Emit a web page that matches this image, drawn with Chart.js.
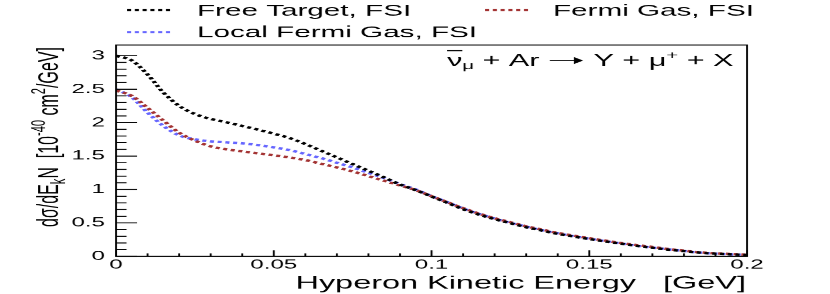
<!DOCTYPE html>
<html lang="en">
<head>
<meta charset="UTF-8">
<title>Hyperon Kinetic Energy</title>
<script src="https://cdn.jsdelivr.net/npm/chart.js@4"></script>
<style>
  html, body { margin: 0; padding: 0; background: #fff; overflow: hidden; }
  /* the reference is stretched horizontally, so draw narrow and widen it */
  #wrap { width: 448px; height: 294px; transform: scaleX(1.8527); transform-origin: 0 0; }
</style>
</head>
<body>
<div id="wrap"><canvas id="chart" width="448" height="294"></canvas></div>
<script>
const energy = [0, 0.005, 0.01, 0.015, 0.02, 0.025, 0.03, 0.035, 0.04, 0.045,
                0.05, 0.055, 0.06, 0.065, 0.07, 0.075, 0.08, 0.085, 0.09, 0.095,
                0.1, 0.105, 0.11, 0.115, 0.12, 0.125, 0.13, 0.135, 0.14, 0.145,
                0.15, 0.155, 0.16, 0.165, 0.17, 0.175, 0.18, 0.185, 0.19, 0.195, 0.2];
const freeTarget = [3.00, 2.93, 2.72, 2.45, 2.25, 2.13, 2.055, 2.005, 1.95, 1.895,
                    1.835, 1.77, 1.68, 1.58, 1.48, 1.38, 1.28, 1.18, 1.075, 0.99,
                    0.895, 0.80, 0.705, 0.625, 0.555, 0.495, 0.435, 0.385, 0.335, 0.295,
                    0.258, 0.222, 0.19, 0.157, 0.127, 0.10, 0.078, 0.055, 0.04, 0.03, 0.02];
const fermiGas = [2.48, 2.40, 2.22, 2.03, 1.85, 1.73, 1.645, 1.60, 1.57, 1.54,
                  1.51, 1.48, 1.44, 1.385, 1.33, 1.27, 1.20, 1.13, 1.06, 0.99,
                  0.90, 0.81, 0.72, 0.64, 0.57, 0.51, 0.45, 0.40, 0.35, 0.31,
                  0.27, 0.235, 0.20, 0.17, 0.14, 0.11, 0.085, 0.06, 0.045, 0.035, 0.025];
const localFermiGas = [2.50, 2.38, 2.15, 1.95, 1.81, 1.75, 1.72, 1.705, 1.69, 1.665,
                       1.63, 1.59, 1.53, 1.47, 1.40, 1.33, 1.25, 1.17, 1.08, 1.00,
                       0.90, 0.81, 0.715, 0.635, 0.565, 0.50, 0.445, 0.39, 0.345, 0.30,
                       0.262, 0.227, 0.193, 0.16, 0.13, 0.105, 0.08, 0.056, 0.04, 0.03, 0.02];
const seriesNames = ['Free Target, FSI', 'Fermi Gas, FSI', 'Local Fermi Gas, FSI'];
const seriesColors = ['#000000', '#a33333', '#6666ff'];
const xTickLabels = ['0', '0.05', '0.1', '0.15', '0.2'];
const yTickLabels = ['0', '0.5', '1', '1.5', '2', '2.5', '3'];

const S = 830 / 448;          // horizontal stretch
const P = v => v / S;         // screen x px -> canvas px
const W = 448, H = 294;
const FONT = '"Liberation Sans", Arial, sans-serif';
const f = size => size + 'px ' + FONT;

const near = (v, step) => Math.abs(v / step - Math.round(v / step)) < 1e-6;

// frame, inside ticks, titles, legend and the reaction label
const decor = {
    id: 'decor',
    afterDraw(chart) {
        const { ctx, chartArea: a, scales: { x, y } } = chart;
        ctx.save();
        ctx.strokeStyle = '#000';
        ctx.fillStyle = '#000';
        ctx.lineWidth = 1;
        ctx.strokeRect(a.left, a.top, a.right - a.left, a.bottom - a.top);

        ctx.beginPath();
        y.ticks.forEach(t => {
            if (!near(t.value, 0.1)) return;
            const py = y.getPixelForValue(t.value);
            const len = near(t.value, 0.5) ? P(21) : P(10.5);
            ctx.moveTo(a.left, py);
            ctx.lineTo(a.left + len, py);
        });
        x.ticks.forEach(t => {
            if (!near(t.value, 0.01)) return;
            const px = x.getPixelForValue(t.value);
            const len = near(t.value, 0.05) ? 6 : 3;
            ctx.moveTo(px, a.bottom);
            ctx.lineTo(px, a.bottom - len);
        });
        ctx.stroke();

        // x title
        ctx.font = f(17.5);
        ctx.textAlign = 'right';
        ctx.textBaseline = 'alphabetic';
        ctx.fillText('Hyperon Kinetic Energy   [GeV]', P(746), 288);

        // y title, rotated, with sub and superscripts
        const parts = [
            { t: 'dσ/dE', s: 16, dy: 0 },
            { t: 'k', s: 11, dy: 4 },
            { t: 'N  [10', s: 16, dy: 0 },
            { t: '-40', s: 11, dy: -7 },
            { t: ' cm', s: 16, dy: 0 },
            { t: '2', s: 11, dy: -7 },
            { t: '/GeV]', s: 16, dy: 0 }
        ];
        ctx.textAlign = 'left';
        let total = 0;
        parts.forEach(p => { ctx.font = f(p.s); p.w = ctx.measureText(p.t).width; total += p.w; });
        ctx.save();
        ctx.translate(P(58), 47 + total);
        ctx.rotate(-Math.PI / 2);
        let cx = 0;
        parts.forEach(p => { ctx.font = f(p.s); ctx.fillText(p.t, cx, p.dy); cx += p.w; });
        ctx.restore();

        // legend
        const spots = [
            { sx: 127, y: 10, tx: 197 },
            { sx: 485, y: 10, tx: 553 },
            { sx: 127, y: 32, tx: 197 }
        ];
        chart.data.datasets.forEach((ds, i) => {
            const sp = spots[i];
            ctx.save();
            ctx.strokeStyle = ds.borderColor;
            ctx.lineWidth = 2;
            ctx.setLineDash(ds.borderDash);
            ctx.beginPath();
            ctx.moveTo(P(sp.sx), sp.y);
            ctx.lineTo(P(sp.sx + 44), sp.y);
            ctx.stroke();
            ctx.restore();
            ctx.font = f(16);
            ctx.textBaseline = 'middle';
            ctx.fillText(ds.label, P(sp.tx), sp.y + 1);
        });

        // reaction label
        ctx.textBaseline = 'alphabetic';
        const by = 66;
        let rx = P(447);
        ctx.font = f(16.5);
        const wNu = ctx.measureText('ν').width;
        ctx.fillText('ν', rx, by);
        ctx.fillRect(rx, by - 16, wNu, 1.2);
        rx += wNu;
        ctx.font = f(11);
        ctx.fillText('μ', rx, by + 3);
        rx += ctx.measureText('μ').width;
        ctx.font = f(16.5);
        ctx.fillText(' + Ar ', rx, by);
        rx += ctx.measureText(' + Ar ').width;
        // long arrow
        ctx.beginPath();
        ctx.lineWidth = 1;
        ctx.moveTo(rx + 1, by - 5.5);
        ctx.lineTo(rx + 18, by - 5.5);
        ctx.stroke();
        ctx.beginPath();
        ctx.moveTo(rx + 19, by - 5.5);
        ctx.lineTo(rx + 14, by - 9);
        ctx.lineTo(rx + 14, by - 2);
        ctx.closePath();
        ctx.fill();
        rx += 20;
        ctx.fillText(' Y + μ', rx, by);
        rx += ctx.measureText(' Y + μ').width;
        ctx.font = f(11);
        ctx.fillText('+', rx, by - 7);
        rx += ctx.measureText('+').width;
        ctx.font = f(16.5);
        ctx.fillText(' + X', rx, by);
        ctx.restore();
    }
};

const curves = [freeTarget, fermiGas, localFermiGas];
const datasets = curves.map((vals, i) => ({
    label: seriesNames[i],
    data: energy.map((e, j) => ({ x: e, y: vals[j] })),
    borderColor: seriesColors[i],
    borderWidth: 2.4,
    borderDash: [2.2, 2],
    pointRadius: 0,
    fill: false,
    cubicInterpolationMode: 'monotone'
}));

new Chart(document.getElementById('chart'), {
    type: 'line',
    data: { datasets },
    options: {
        responsive: false,
        animation: false,
        devicePixelRatio: S,
        layout: { padding: { left: 0, right: W - P(747), top: 45, bottom: 0 } },
        plugins: { legend: { display: false }, tooltip: { enabled: false } },
        scales: {
            x: {
                type: 'linear',
                min: 0, max: 0.2,
                grid: { display: false, drawTicks: false },
                border: { display: false },
                afterFit: s => { s.height = H - 256; },
                ticks: {
                    stepSize: 0.01, autoSkip: false, maxRotation: 0, padding: 1,
                    color: '#000', font: { family: FONT, size: 13 },
                    callback: v => near(v, 0.05) ? xTickLabels[Math.round(v / 0.05)] : ''
                }
            },
            y: {
                min: 0, max: 3.16,
                grid: { display: false, drawTicks: false },
                border: { display: false },
                afterFit: s => { s.width = P(116); },
                ticks: {
                    stepSize: 0.1, autoSkip: false, padding: 6,
                    color: '#000', font: { family: FONT, size: 13 },
                    callback: v => near(v, 0.5) ? yTickLabels[Math.round(v / 0.5)] : ''
                }
            }
        }
    },
    plugins: [decor]
});
</script>
</body>
</html>
